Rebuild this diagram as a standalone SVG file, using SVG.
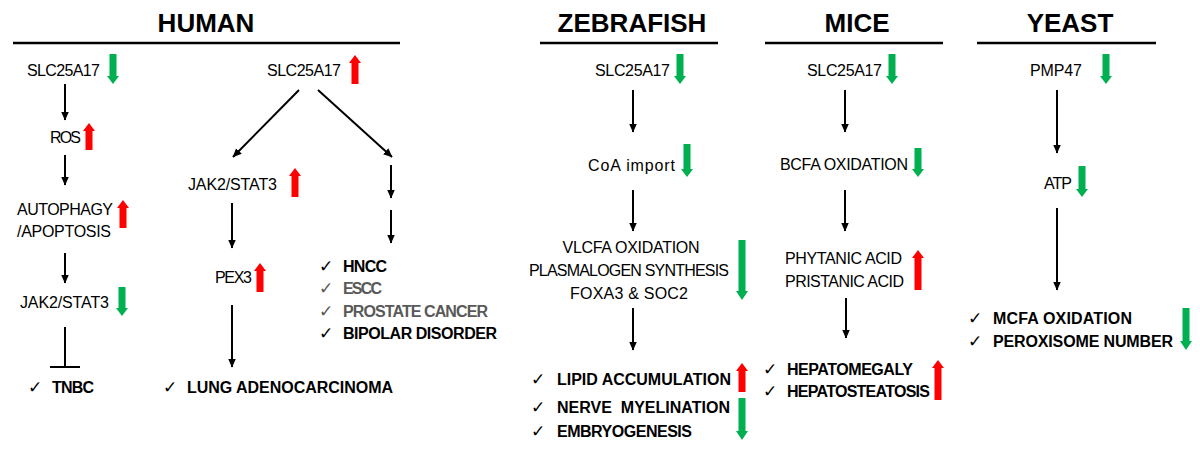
<svg xmlns="http://www.w3.org/2000/svg" width="1200" height="452" viewBox="0 0 1200 452">
<style>
.title{font-family:"Liberation Sans",Arial,sans-serif;font-weight:bold;font-size:26px;fill:#000;text-anchor:middle}
.t{font-family:"Liberation Sans",Arial,sans-serif;font-size:16px;fill:#000}
.tm{font-family:"Liberation Sans",Arial,sans-serif;font-size:16px;fill:#000;text-anchor:middle}
.b{font-family:"Liberation Sans",Arial,sans-serif;font-weight:bold;font-size:16px;fill:#000}
.g{fill:#595959}
.ck{font-family:"DejaVu Sans",sans-serif;font-size:17px;fill:#000}
.ckg{fill:#595959}
.rule{stroke:#000;stroke-width:2.5}
.conn{stroke:#000;stroke-width:2;fill:none}
.up{fill:#FF0000}
.dn{fill:#00B050}
</style>
<defs>
<marker id="ah" markerUnits="userSpaceOnUse" markerWidth="9" markerHeight="8" refX="8.5" refY="4" orient="auto">
<path d="M0,0 L9,4 L0,8 Z" fill="#000"/>
</marker>
</defs>

<g id="headers">
<text class="title" x="206" y="32">HUMAN</text>
<text class="title" x="632" y="32">ZEBRAFISH</text>
<text class="title" x="857" y="32">MICE</text>
<text class="title" x="1070" y="32">YEAST</text>
<line class="rule" x1="13" y1="43" x2="400" y2="43"/>
<line class="rule" x1="540" y1="43" x2="718" y2="43"/>
<line class="rule" x1="765" y1="43" x2="943" y2="43"/>
<line class="rule" x1="977" y1="43" x2="1156" y2="43"/>
</g>

<g id="connectors">
<line class="conn" x1="65" y1="84" x2="65" y2="120" marker-end="url(#ah)"/>
<line class="conn" x1="65" y1="155" x2="65" y2="185" marker-end="url(#ah)"/>
<line class="conn" x1="65" y1="253" x2="65" y2="283" marker-end="url(#ah)"/>
<line class="conn" x1="65" y1="327" x2="65" y2="367"/>
<line class="conn" x1="50" y1="367" x2="80" y2="367"/>
<line class="conn" x1="299" y1="90" x2="233" y2="157" marker-end="url(#ah)"/>
<line class="conn" x1="318" y1="90" x2="392" y2="157" marker-end="url(#ah)"/>
<line class="conn" x1="232" y1="203" x2="232" y2="248" marker-end="url(#ah)"/>
<line class="conn" x1="232" y1="305" x2="232" y2="367" marker-end="url(#ah)"/>
<line class="conn" x1="391" y1="165" x2="391" y2="198" marker-end="url(#ah)"/>
<line class="conn" x1="391" y1="210" x2="391" y2="243" marker-end="url(#ah)"/>
<line class="conn" x1="633" y1="90" x2="633" y2="132" marker-end="url(#ah)"/>
<line class="conn" x1="633" y1="190" x2="633" y2="231" marker-end="url(#ah)"/>
<line class="conn" x1="633" y1="308" x2="633" y2="350" marker-end="url(#ah)"/>
<line class="conn" x1="845" y1="90" x2="845" y2="132" marker-end="url(#ah)"/>
<line class="conn" x1="845" y1="190" x2="845" y2="231" marker-end="url(#ah)"/>
<line class="conn" x1="846" y1="298" x2="846" y2="338" marker-end="url(#ah)"/>
<line class="conn" x1="1057" y1="90" x2="1057" y2="153" marker-end="url(#ah)"/>
<line class="conn" x1="1057" y1="208" x2="1057" y2="290" marker-end="url(#ah)"/>
</g>

<g id="human-slc-down">
<text class="t" x="27" y="76" textLength="73">SLC25A17</text>
<path class="dn" d="M109.5,54 H116.5 V76 H119 L113,84 L107,76 H109.5 Z"/>
</g>
<g id="human-ros">
<text class="t" x="50" y="143" textLength="31">ROS</text>
<path class="up" d="M85.5,150 H92.5 V131 H95 L89,123 L83,131 H85.5 Z"/>
</g>
<g id="human-autophagy">
<text class="t" x="17" y="215" textLength="96">AUTOPHAGY</text>
<text class="t" x="17" y="237" textLength="94">/APOPTOSIS</text>
<path class="up" d="M119.5,228 H126.5 V208 H129 L123,200 L117,208 H119.5 Z"/>
</g>
<g id="human-jak-down">
<text class="t" x="20" y="308" textLength="89">JAK2/STAT3</text>
<path class="dn" d="M118.5,287 H125.5 V308 H128 L122,316 L116,308 H118.5 Z"/>
</g>
<g id="human-tnbc">
<text class="ck" x="28" y="393">✓</text>
<text class="b" x="52" y="393" textLength="42">TNBC</text>
</g>

<g id="human-slc-up">
<text class="t" x="267" y="76" textLength="74">SLC25A17</text>
<path class="up" d="M351.5,84 H358.5 V63 H361 L355,55 L349,63 H351.5 Z"/>
</g>
<g id="human-jak-up">
<text class="t" x="188" y="190" textLength="89">JAK2/STAT3</text>
<path class="up" d="M291.5,197 H298.5 V176 H301 L295,168 L289,176 H291.5 Z"/>
</g>
<g id="human-pex3">
<text class="t" x="215" y="283" textLength="37">PEX3</text>
<path class="up" d="M256.5,292 H263.5 V271 H266 L260,263 L254,271 H256.5 Z"/>
</g>
<g id="human-lung">
<text class="ck" x="163" y="393">✓</text>
<text class="b" x="187" y="393" textLength="206">LUNG ADENOCARCINOMA</text>
</g>
<g id="human-diseases">
<text class="ck" x="319" y="272">✓</text>
<text class="b" x="343" y="272" textLength="44">HNCC</text>
<text class="ck ckg" x="319" y="294">✓</text>
<text class="b g" x="343" y="294" textLength="39">ESCC</text>
<text class="ck ckg" x="319" y="317">✓</text>
<text class="b g" x="343" y="317" textLength="145">PROSTATE CANCER</text>
<text class="ck" x="319" y="339">✓</text>
<text class="b" x="343" y="339" textLength="154">BIPOLAR DISORDER</text>
</g>

<g id="zf-slc">
<text class="t" x="595" y="76" textLength="75">SLC25A17</text>
<path class="dn" d="M676.5,54 H683.5 V76 H686 L680,84 L674,76 H676.5 Z"/>
</g>
<g id="zf-coa">
<text class="t" x="588" y="171" textLength="87">CoA import</text>
<path class="dn" d="M683.5,144 H690.5 V169 H693 L687,177 L681,169 H683.5 Z"/>
</g>
<g id="zf-vlcfa">
<text class="tm" x="631" y="253" textLength="137">VLCFA OXIDATION</text>
<text class="tm" x="629" y="276" textLength="200">PLASMALOGEN SYNTHESIS</text>
<text class="tm" x="629" y="299" textLength="118">FOXA3 &amp; SOC2</text>
<path class="dn" d="M738.5,240 H745.5 V291 H748 L742,300 L736,291 H738.5 Z"/>
</g>
<g id="zf-lipid">
<text class="ck" x="531" y="385">✓</text>
<text class="b" x="557" y="385" textLength="174">LIPID ACCUMULATION</text>
<path class="up" d="M738.5,392 H745.5 V371 H748 L742,363 L736,371 H738.5 Z"/>
</g>
<g id="zf-nerve">
<text class="ck" x="531" y="413">✓</text>
<text class="b" x="557" y="413" xml:space="preserve" textLength="173">NERVE  MYELINATION</text>
<text class="ck" x="531" y="437">✓</text>
<text class="b" x="557" y="437" textLength="135">EMBRYOGENESIS</text>
<path class="dn" d="M738.5,398 H745.5 V431 H748 L742,440 L736,431 H738.5 Z"/>
</g>

<g id="mice-slc">
<text class="t" x="807" y="76" textLength="75">SLC25A17</text>
<path class="dn" d="M888.5,54 H895.5 V76 H898 L892,84 L886,76 H888.5 Z"/>
</g>
<g id="mice-bcfa">
<text class="t" x="780" y="170" textLength="128">BCFA OXIDATION</text>
<path class="dn" d="M914.5,148 H921.5 V169 H924 L918,177 L912,169 H914.5 Z"/>
</g>
<g id="mice-acids">
<text class="t" x="785" y="264" textLength="117">PHYTANIC ACID</text>
<text class="t" x="785" y="287" textLength="119">PRISTANIC ACID</text>
<path class="up" d="M914.5,290 H921.5 V258 H924 L918,250 L912,258 H914.5 Z"/>
</g>
<g id="mice-hepato">
<text class="ck" x="763" y="375">✓</text>
<text class="b" x="787" y="375" textLength="126">HEPATOMEGALY</text>
<text class="ck" x="763" y="397">✓</text>
<text class="b" x="787" y="397" textLength="143">HEPATOSTEATOSIS</text>
<path class="up" d="M934.5,400 H941.5 V368 H944 L938,360 L932,368 H934.5 Z"/>
</g>

<g id="yeast-pmp47">
<text class="t" x="1030" y="76" textLength="52">PMP47</text>
<path class="dn" d="M1102.5,54 H1109.5 V76 H1112 L1106,84 L1100,76 H1102.5 Z"/>
</g>
<g id="yeast-atp">
<text class="t" x="1044" y="189" textLength="28">ATP</text>
<path class="dn" d="M1078.5,166 H1085.5 V189 H1088 L1082,197 L1076,189 H1078.5 Z"/>
</g>
<g id="yeast-mcfa">
<text class="ck" x="968" y="324">✓</text>
<text class="b" x="993" y="324" textLength="139">MCFA OXIDATION</text>
<text class="ck" x="968" y="347">✓</text>
<text class="b" x="993" y="347" textLength="180">PEROXISOME NUMBER</text>
<path class="dn" d="M1182.5,308 H1189.5 V341 H1192 L1186,350 L1180,341 H1182.5 Z"/>
</g>
</svg>
